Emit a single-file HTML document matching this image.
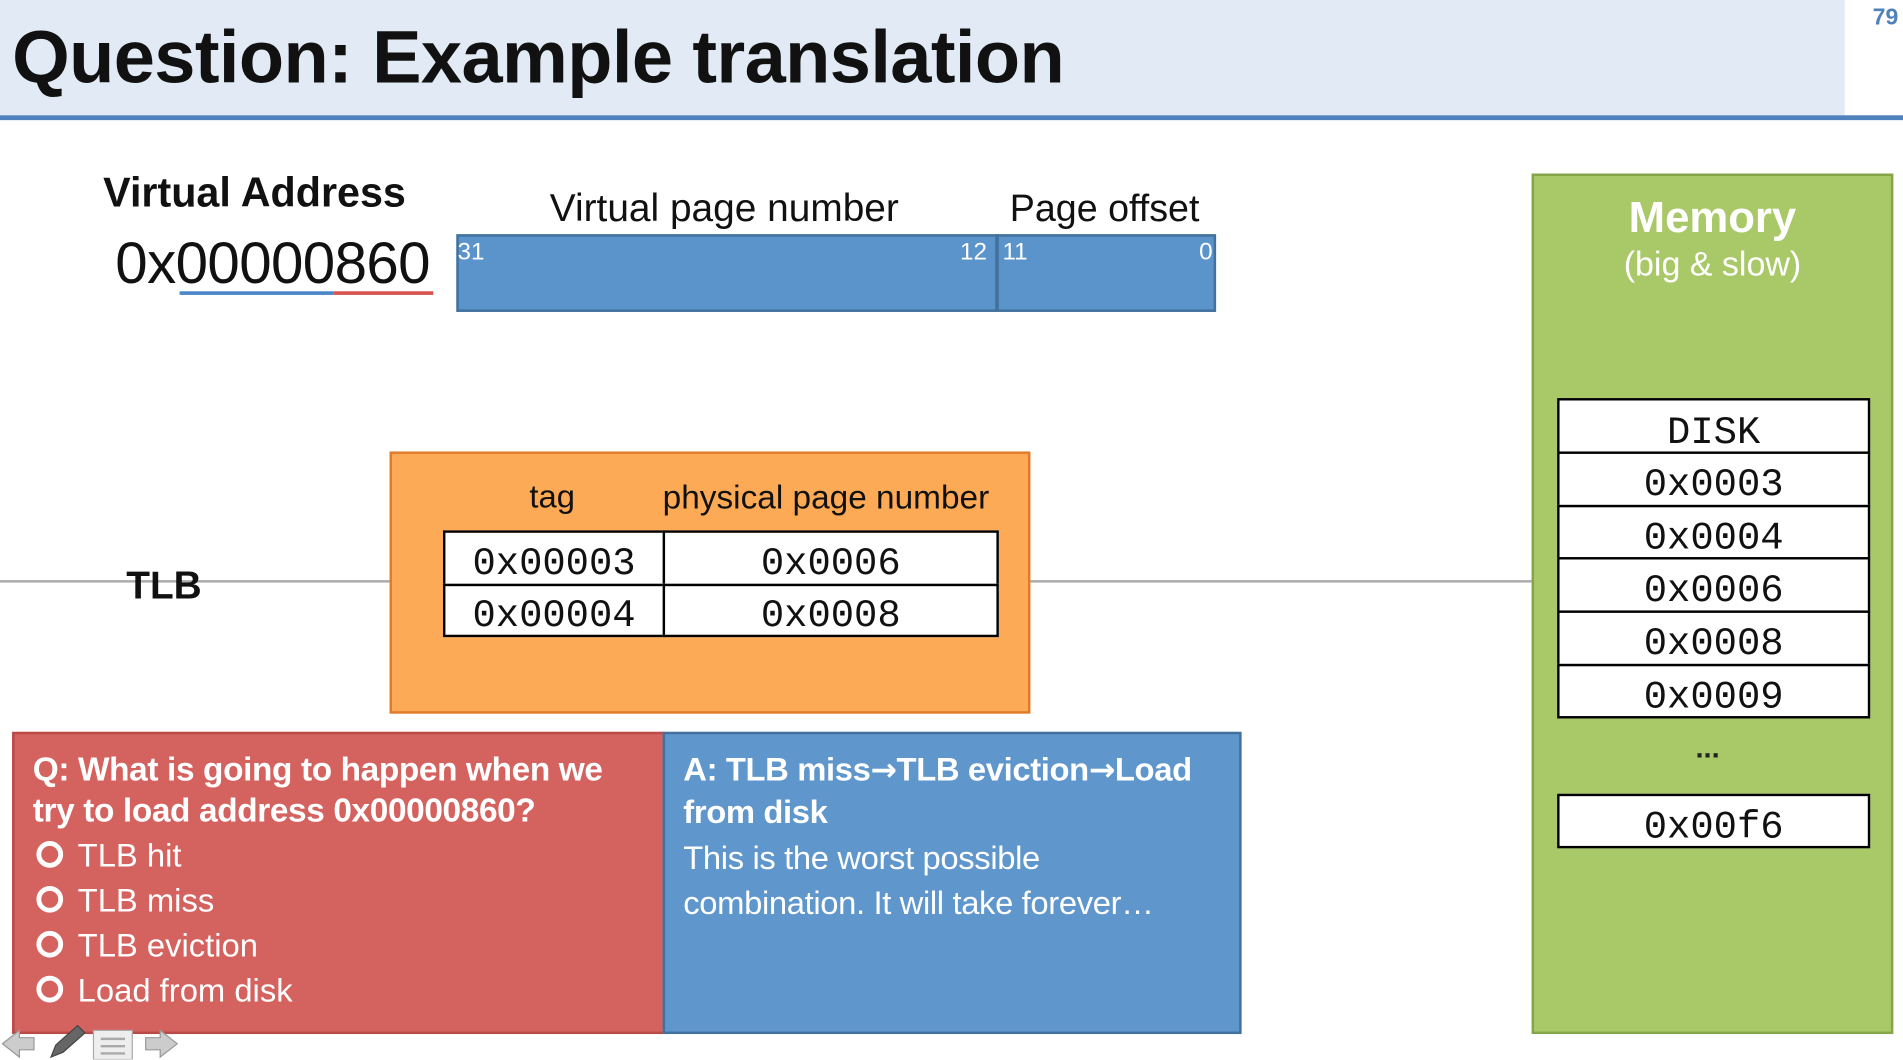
<!DOCTYPE html>
<html><head><meta charset="utf-8"><style>
html,body{margin:0;padding:0;background:#fff;overflow:hidden}
body{width:1903px;height:1059px}
#w{position:absolute;left:0;top:0;width:1568px;height:873px;transform:scale(1.21365);transform-origin:0 0;font-family:"Liberation Sans",sans-serif}
.a{position:absolute}
.t{position:absolute;white-space:nowrap}
.cell{position:absolute;border:2px solid #000;background:#fff;box-sizing:border-box;text-align:center;font-family:"Liberation Mono",monospace;font-size:32px;color:#111}
.opt{position:absolute;left:30px;color:#fff;font-size:27px;white-space:nowrap}
.opt span{display:inline-block;width:14px;height:14px;border:4px solid #fff;border-radius:50%;margin-right:12px;vertical-align:-1px}
.ar{font-family:"DejaVu Sans",sans-serif;font-size:26px}
</style></head><body><div id="w">
<div class="a" style="left:0;top:0;width:1520px;height:95px;background:#e2ebf5"></div>
<div class="a" style="left:0;top:95px;width:1568px;height:4px;background:#4f81bd"></div>
<div class="t" style="left:10px;top:12px;font-size:61px;font-weight:bold;color:#111;letter-spacing:-0.5px">Question: Example translation</div>
<div class="t" style="left:1543px;top:4px;font-size:19px;font-weight:bold;color:#4f81bd">79</div>

<div class="t" style="left:85px;top:140px;font-size:34px;font-weight:bold;color:#111">Virtual Address</div>
<div class="t" style="left:95px;top:190px;font-size:48px;color:#111;letter-spacing:-0.5px">0x00000860</div>
<div class="a" style="left:148px;top:240px;width:127px;height:3px;background:#4a86c8"></div>
<div class="a" style="left:275px;top:240px;width:82px;height:3px;background:#d9534f"></div>

<div class="t" style="left:453px;top:153px;font-size:32px;color:#111">Virtual page number</div>
<div class="t" style="left:832px;top:154px;font-size:31px;color:#111">Page offset</div>
<div class="a" style="left:376px;top:193px;width:622px;height:60px;background:#5b93cb;border:2px solid #41719c"></div>
<div class="a" style="left:820px;top:193px;width:3px;height:62px;background:#41719c"></div>
<div class="t" style="left:377px;top:197px;font-size:20px;color:#fff">31</div>
<div class="t" style="left:791px;top:197px;font-size:20px;color:#fff">12</div>
<div class="t" style="left:826px;top:197px;font-size:20px;color:#fff">11</div>
<div class="t" style="left:988px;top:197px;font-size:20px;color:#fff">0</div>

<div class="a" style="left:0;top:478px;width:1262px;height:2px;background:#aaa"></div>
<div class="t" style="left:104px;top:464px;font-size:32px;font-weight:bold;color:#111">TLB</div>

<div class="a" style="left:321px;top:372px;width:524px;height:212px;background:#fdaa56;border:2px solid #e07b2c"></div>
<div class="t" style="left:405px;width:100px;text-align:center;top:394px;font-size:27px;color:#111">tag</div>
<div class="t" style="left:546px;top:394px;font-size:27.5px;color:#111">physical page number</div>
<div class="cell" style="left:365px;top:437px;width:183px;height:46px;line-height:52px">0x00003</div>
<div class="cell" style="left:546px;top:437px;width:277px;height:46px;line-height:52px">0x0006</div>
<div class="cell" style="left:365px;top:481px;width:183px;height:44px;line-height:50px">0x00004</div>
<div class="cell" style="left:546px;top:481px;width:277px;height:44px;line-height:50px">0x0008</div>

<div class="a" style="left:10px;top:603px;width:534px;height:245px;background:#d46360;border:2px solid #b94a46"></div>
<div class="a" style="left:546px;top:603px;width:473px;height:245px;background:#5f96cc;border:2px solid #41719c"></div>
<div class="t" style="left:27px;top:617px;font-size:27.5px;font-weight:bold;color:#fff;line-height:34px;letter-spacing:-0.3px">Q: What is going to happen when we<br>try to load address 0x00000860?</div>
<div class="opt" style="top:690px"><span></span>TLB hit</div>
<div class="opt" style="top:727px"><span></span>TLB miss</div>
<div class="opt" style="top:764px"><span></span>TLB eviction</div>
<div class="opt" style="top:801px"><span></span>Load from disk</div>
<div class="t" style="left:563px;top:617px;font-size:27px;font-weight:bold;color:#fff;line-height:34px;letter-spacing:-0.3px">A: TLB miss<span class="ar">→</span>TLB eviction<span class="ar">→</span>Load<br>from disk</div>
<div class="t" style="left:563px;top:689px;font-size:27px;color:#fff;line-height:37px;letter-spacing:-0.3px">This is the worst possible<br>combination. It will take forever…</div>

<div class="a" style="left:1262px;top:143px;width:294px;height:705px;background:#a9c968;border:2px solid #84a648"></div>
<div class="t" style="left:1262px;width:298px;text-align:center;top:158px;font-size:36px;font-weight:bold;color:#fff">Memory</div>
<div class="t" style="left:1262px;width:298px;text-align:center;top:202px;font-size:28px;color:#fff">(big &amp; slow)</div>
<div class="cell" style="left:1283px;top:328px;width:258px;height:46px;line-height:54px">DISK</div>
<div class="cell" style="left:1283px;top:372px;width:258px;height:46px;line-height:52px">0x0003</div>
<div class="cell" style="left:1283px;top:416px;width:258px;height:45px;line-height:51px">0x0004</div>
<div class="cell" style="left:1283px;top:459px;width:258px;height:46px;line-height:52px">0x0006</div>
<div class="cell" style="left:1283px;top:503px;width:258px;height:46px;line-height:52px">0x0008</div>
<div class="cell" style="left:1283px;top:547px;width:258px;height:45px;line-height:51px">0x0009</div>
<div class="t" style="left:1258px;width:298px;text-align:center;top:603px;font-size:24px;font-weight:bold;color:#222">...</div>
<div class="cell" style="left:1283px;top:654px;width:258px;height:45px;line-height:51px">0x00f6</div>

<svg class="a" style="left:0;top:843px" width="160" height="30">
<path d="M2 17 L16 6 L16 12 L28 12 L28 22 L16 22 L16 28 Z" fill="#ccc" stroke="#999"/>
<path d="M42 28 L46 18 L64 2 L70 8 L52 24 Z" fill="#666" stroke="#444"/>
<rect x="77" y="6" width="32" height="24" fill="#eee" stroke="#aaa"/>
<path d="M83 13h20M83 19h20M83 25h20" stroke="#aaa" stroke-width="2"/>
<path d="M146 17 L132 6 L132 12 L120 12 L120 22 L132 22 L132 28 Z" fill="#ccc" stroke="#999"/>
</svg>
</div></body></html>
